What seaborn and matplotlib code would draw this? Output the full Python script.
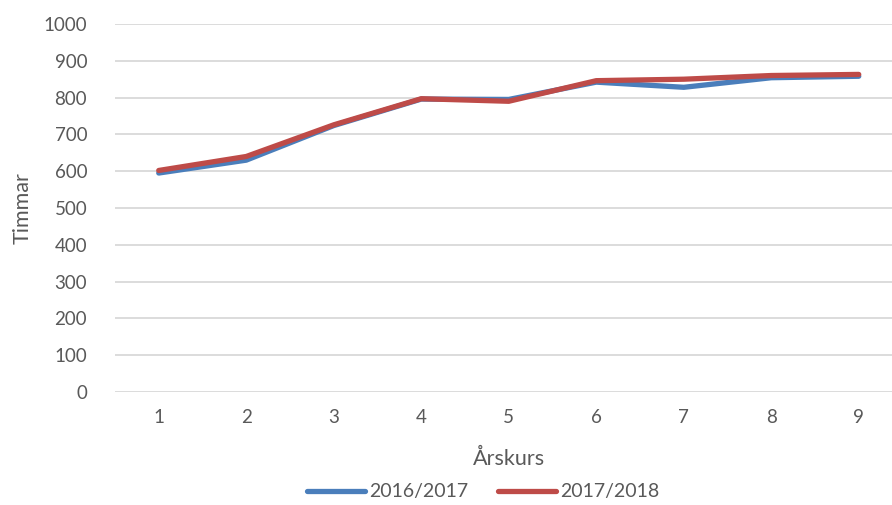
import matplotlib
matplotlib.use("Agg")
import matplotlib.pyplot as plt
import seaborn as sns
import pandas as pd

arskurs = [1, 2, 3, 4, 5, 6, 7, 8, 9]
series_names = ["2016/2017", "2017/2018"]
v_2016_2017 = [595, 630, 724, 796, 795, 842, 828, 854, 858]
v_2017_2018 = [602, 640, 726, 797, 790, 846, 850, 860, 863]
y_ticks = [0, 100, 200, 300, 400, 500, 600, 700, 800, 900, 1000]

df = pd.DataFrame({
    "Årskurs": arskurs * 2,
    "Timmar": v_2016_2017 + v_2017_2018,
    "Läsår": [series_names[0]] * len(arskurs) + [series_names[1]] * len(arskurs),
})

sns.set_theme(style="white")
plt.rcParams['font.family'] = ['Lato', 'DejaVu Sans']

fig = plt.figure(figsize=(8.92, 5.05), dpi=100)
ax = fig.add_axes([115 / 892, 1 - 392 / 505, 787.5 / 892, 368 / 505])

palette = {"2016/2017": "#4A7EBB", "2017/2018": "#BE4B48"}
sns.lineplot(data=df, x="Årskurs", y="Timmar", hue="Läsår", palette=palette,
             linewidth=3.8, ax=ax, legend=False, solid_capstyle="round")

ax.set_xlim(0.5, 9.5)
ax.set_ylim(0, 1000)
ax.set_yticks(y_ticks)
ax.set_xticks(arskurs)
ax.set_xticklabels([str(a) for a in arskurs])
ax.yaxis.grid(True, color="#D9D9D9", linewidth=1.3)
ax.set_axisbelow(True)
for s in ax.spines.values():
    s.set_visible(False)
ax.tick_params(axis="both", length=0, labelsize=13.5, colors="#595959")
ax.tick_params(axis="y", pad=20)
ax.tick_params(axis="x", pad=12)
ax.set_xlabel("Årskurs", fontsize=15.5, color="#595959", labelpad=17)
ax.set_ylabel("Timmar", fontsize=15.5, color="#595959", labelpad=8)

from matplotlib.lines import Line2D
handles = [Line2D([0], [0], color=palette[n], linewidth=3.8, solid_capstyle="round") for n in series_names]
fig.legend(handles, series_names, loc="center", bbox_to_anchor=(483 / 892, 1 - 492 / 505),
           ncol=2, frameon=False, fontsize=14, labelcolor="#595959",
           handlelength=3.0, handletextpad=0.2, columnspacing=1.5)

fig.savefig("out.png", dpi=100)
